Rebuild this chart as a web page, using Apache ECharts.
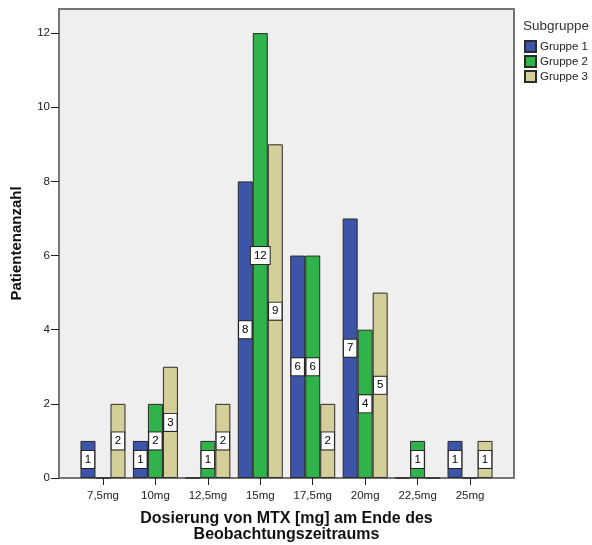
<!DOCTYPE html>
<html>
<head>
<meta charset="utf-8">
<script src="https://cdn.jsdelivr.net/npm/echarts@6/dist/echarts.min.js"></script>
<style>html,body{margin:0;padding:0;background:#fff;}#c{width:592px;height:545px;}</style>
</head>
<body>
<div id="c"></div>
<script>
const categories = ['7,5mg','10mg','12,5mg','15mg','17,5mg','20mg','22,5mg','25mg'];
const seriesNames = ['Gruppe 1','Gruppe 2','Gruppe 3'];
const gruppe1 = [1, 1, 0, 8, 6, 7, 0, 1];
const gruppe2 = [0, 2, 1, 12, 6, 4, 1, 0];
const gruppe3 = [2, 3, 2, 9, 2, 5, 0, 1];
const yTicks = [0, 2, 4, 6, 8, 10, 12];
const colors = ['#3d55a8', '#2fb34a', '#d4cf98'];

const allValues = [gruppe1, gruppe2, gruppe3];
const chart = echarts.init(document.getElementById('c'), null, {renderer: 'canvas'});
const font = 'Arial, "Liberation Sans", sans-serif';

const series = allValues.map((vals, i) => ({
  name: seriesNames[i],
  type: 'bar',
  xAxisIndex: 1,
  yAxisIndex: 1,
  barWidth: 15,
  barGap: '0%',
  itemStyle: {color: colors[i], borderColor: '#2a2a2a', borderWidth: 1},
  data: vals.map(v => ({value: v, label: {show: v > 0}})),
  label: {
    position: 'inside',
    color: '#000',
    fontSize: 11.5,
    fontFamily: font,
    backgroundColor: '#fff',
    borderColor: '#222',
    borderWidth: 1,
    padding: [3, 3, 2, 3]
  },
  emphasis: {disabled: true},
  animation: false
}));

chart.setOption({
  animation: false,
  title: {
    text: 'Subgruppe', left: 523, top: 19, padding: 0,
    textStyle: {fontSize: 13.5, fontWeight: 'normal', color: '#333', fontFamily: font}
  },
  legend: {
    orient: 'vertical', left: 524, top: 40, padding: 0,
    itemWidth: 11, itemHeight: 11, itemGap: 2,
    icon: 'rect',
    data: seriesNames,
    textStyle: {fontSize: 11.5, color: '#222', fontFamily: font, padding: [0, 0, 0, -1]}
  },
  grid: [
    {left: 59, right: 78, top: 9, bottom: 67, show: true, backgroundColor: '#efefef', borderColor: '#757575', borderWidth: 2, z: 0, outerBoundsMode: 'none', containLabel: false},
    {left: 76.75, right: 95.75, top: 9, bottom: 67, show: false, outerBoundsMode: 'none', containLabel: false}
  ],
  xAxis: [
    {gridIndex: 0, type: 'value', min: 0, max: 1, show: false},
    {
      gridIndex: 1, type: 'category', data: categories,
      axisLine: {show: false},
      axisTick: {show: true, alignWithLabel: true, interval: 0, length: 7, lineStyle: {color: '#222'}},
      axisLabel: {interval: 0, fontSize: 11.5, color: '#222', fontFamily: font, margin: 12},
      name: 'Dosierung von MTX [mg] am Ende des\nBeobachtungszeitraums',
      nameLocation: 'middle', nameGap: 33,
      nameTextStyle: {fontSize: 16, fontWeight: 'bold', color: '#111', fontFamily: font, lineHeight: 16}
    }
  ],
  yAxis: [
    {
      gridIndex: 0, type: 'value', min: 0, max: 12.65,
      axisLine: {show: false},
      splitLine: {show: false},
      axisTick: {show: true, length: 8, customValues: yTicks, lineStyle: {color: '#222'}},
      axisLabel: {customValues: yTicks, fontSize: 11.5, color: '#222', fontFamily: font, margin: 9},
      name: 'Patientenanzahl', nameLocation: 'middle', nameGap: 35,
      nameTextStyle: {fontSize: 15, fontWeight: 'bold', color: '#111', fontFamily: font}
    },
    {gridIndex: 1, type: 'value', min: 0, max: 12.65, show: false, splitLine: {show: false}}
  ],
  series: series
});
</script>
</body>
</html>
